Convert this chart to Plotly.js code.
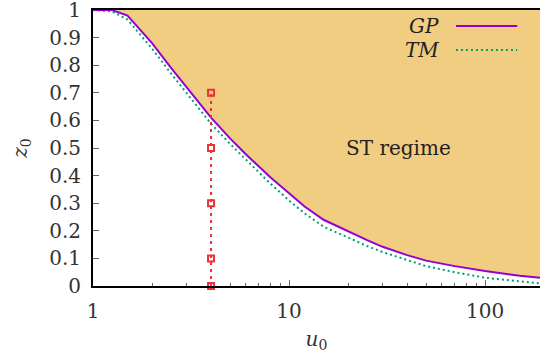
<!DOCTYPE html>
<html>
<head>
<meta charset="utf-8">
<script src="https://cdn.plot.ly/plotly-3.0.1.min.js"></script>
<style>html,body{margin:0;padding:0;overflow:hidden;background:#fff}</style>
</head>
<body>
<div id="chart" style="width:540px;height:362px"></div>
<script>
// u0 values (log axis)
var u0 = [1, 1.25, 1.5, 2, 2.5, 3, 4, 5, 6, 8, 10, 12, 15, 20, 25, 30, 40, 50, 70, 100, 150, 200];
// GP boundary z0
var gp = [1, 1, 0.98, 0.88, 0.79, 0.72, 0.61, 0.535, 0.478, 0.395, 0.335, 0.288, 0.24, 0.198, 0.166, 0.142, 0.112, 0.092, 0.072, 0.054, 0.037, 0.028];
// TM boundary z0
var tm = [1, 0.995, 0.965, 0.86, 0.77, 0.70, 0.588, 0.515, 0.458, 0.372, 0.31, 0.263, 0.215, 0.174, 0.145, 0.123, 0.094, 0.072, 0.05, 0.03, 0.017, 0.008];
// top boundary of the filled region
var topY = u0.map(function(){ return 1; });
// sampled points at u0 = 4
var sampleU = [4, 4, 4, 4, 4];
var sampleZ = [0, 0.1, 0.3, 0.5, 0.7];

var serif = 'DejaVu Serif';
var fs = 20;

var traces = [
  {x: u0, y: topY, mode: 'lines', line: {width: 0, color: 'rgba(0,0,0,0)'}, showlegend: false, hoverinfo: 'skip'},
  {x: u0, y: gp, mode: 'lines', fill: 'tonexty', fillcolor: '#f1cd82', line: {width: 0, color: 'rgba(0,0,0,0)'}, showlegend: false, hoverinfo: 'skip'},
  {x: u0, y: tm, mode: 'lines', name: 'TM', line: {color: '#009e73', width: 2, dash: '2px,3px'}, showlegend: false},
  {x: u0, y: gp, mode: 'lines', name: 'GP', line: {color: '#9400d3', width: 2}, showlegend: false},
  {x: sampleU, y: sampleZ, mode: 'lines+markers', line: {color: '#f03030', width: 2, dash: '3px,4px'},
   marker: {symbol: 'square-open', size: 6, color: '#f03030', line: {width: 2, color: '#f03030'}}, showlegend: false, cliponaxis: false}
];

var layout = {
  width: 540, height: 362,
  margin: {l: 93, r: 0, t: 10, b: 76},
  paper_bgcolor: '#ffffff', plot_bgcolor: '#ffffff',
  font: {family: serif, size: fs, color: '#333'},
  showlegend: false,
  xaxis: {
    type: 'log', range: [0, 2.28],
    tickvals: [1, 10, 100], ticktext: ['1', '10', '100'],
    ticks: 'inside', ticklen: 6, tickwidth: 1, tickcolor: '#666',
    minor: {ticks: 'inside', ticklen: 3, tickwidth: 1, tickcolor: '#666', tickvals: [2,3,4,5,6,7,8,9,20,30,40,50,60,70,80,90,200], showgrid: false},
    showline: true, linecolor: '#000', linewidth: 2, mirror: true,
    showgrid: false, zeroline: false,
    ticklabeloverflow: 'allow', ticklabelstandoff: 6,
    tickfont: {family: serif, size: fs, color: '#333'},
    title: {text: '<i>u</i><sub>0</sub>', font: {family: serif, size: fs, color: '#333'}, standoff: 10}
  },
  yaxis: {
    range: [0, 1],
    tickvals: [0, 0.1, 0.2, 0.3, 0.4, 0.5, 0.6, 0.7, 0.8, 0.9, 1],
    ticktext: ['0', '0.1', '0.2', '0.3', '0.4', '0.5', '0.6', '0.7', '0.8', '0.9', '1'],
    ticks: 'inside', ticklen: 6, tickwidth: 1, tickcolor: '#666',
    showline: true, linecolor: '#000', linewidth: 2, mirror: false,
    showgrid: false, zeroline: false,
    ticklabeloverflow: 'allow', ticklabelstandoff: 6,
    tickfont: {family: serif, size: fs, color: '#333'},
    title: {text: '<i>z</i><sub>0</sub>', font: {family: serif, size: fs, color: '#333'}, standoff: 16}
  },
  annotations: [
    {x: Math.log10(36), y: 0.5, xref: 'x', yref: 'y', text: 'ST regime', showarrow: false, font: {family: serif, size: fs, color: '#222'}},
    {x: 0.779, y: 0.942, xref: 'paper', yref: 'paper', xanchor: 'right', yanchor: 'middle', text: '<i>GP</i>', showarrow: false, font: {family: serif, size: fs, color: '#222'}},
    {x: 0.779, y: 0.855, xref: 'paper', yref: 'paper', xanchor: 'right', yanchor: 'middle', text: '<i>TM</i>', showarrow: false, font: {family: serif, size: fs, color: '#222'}}
  ],
  shapes: [
    {type: 'line', xref: 'paper', yref: 'paper', x0: 0.812, x1: 0.949, y0: 0.942, y1: 0.942, line: {color: '#9400d3', width: 2}},
    {type: 'line', xref: 'paper', yref: 'paper', x0: 0.812, x1: 0.949, y0: 0.855, y1: 0.855, line: {color: '#009e73', width: 2, dash: '2px,3px'}}
  ]
};

Plotly.newPlot('chart', traces, layout, {staticPlot: true, displayModeBar: false});
</script>
</body>
</html>
